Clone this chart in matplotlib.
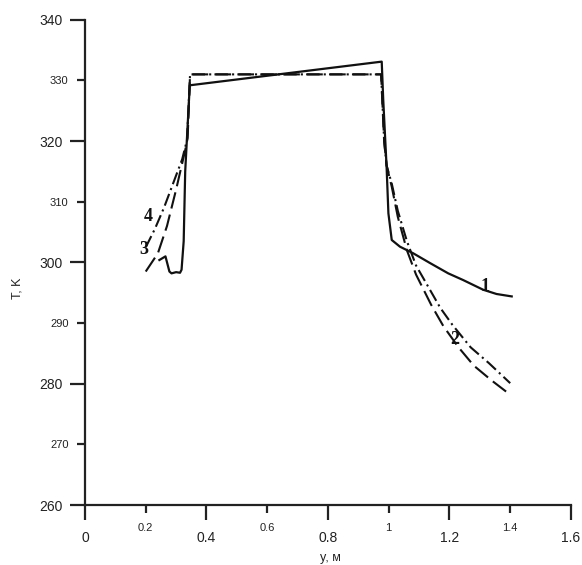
import matplotlib.pyplot as plt
import numpy as np

# curve 1 (solid)
y1 = [0.245, 0.265, 0.278, 0.285, 0.300, 0.313, 0.318, 0.325, 0.330, 0.345,
      0.977, 0.982, 0.993, 0.999, 1.010, 1.037, 1.081, 1.136, 1.196, 1.245,
      1.311, 1.355, 1.405]
T1 = [300.4, 301.0, 298.5, 298.2, 298.4, 298.3, 298.8, 303.5, 315.0, 329.2,
      333.1, 326.8, 315.8, 308.1, 303.7, 302.6, 301.5, 299.9, 298.2, 297.1,
      295.5, 294.8, 294.4]

# curves 2/3 (long dash)
y3 = [0.200, 0.240, 0.270, 0.300, 0.330, 0.338, 0.346, 0.975, 0.985, 0.993,
      1.010, 1.030, 1.060, 1.090, 1.140, 1.180, 1.230, 1.280, 1.340, 1.400]
T3 = [298.5, 301.5, 306.0, 312.0, 318.5, 320.5, 331.0, 331.0, 320.0, 316.0,
      312.5, 307.5, 302.0, 298.0, 293.0, 289.5, 286.0, 283.0, 280.5, 278.2]

# curve 4 (dash-dot)
y4 = [0.200, 0.230, 0.260, 0.290, 0.320, 0.336, 0.346, 0.975, 0.985, 0.993,
      1.010, 1.030, 1.060, 1.090, 1.130, 1.170, 1.210, 1.270, 1.330, 1.400]
T4 = [302.5, 305.5, 309.0, 313.0, 317.0, 320.2, 331.0, 331.0, 320.0, 316.0,
      313.0, 308.5, 303.5, 299.5, 296.0, 292.5, 289.7, 286.0, 283.4, 280.1]

labels = ['1', '2', '3', '4']
label_y = [1.317, 1.218, 0.194, 0.207]
label_T = [296.0, 287.3, 302.2, 307.6]

plt.rcParams['font.family'] = ['Liberation Sans', 'DejaVu Sans']

fig = plt.figure(figsize=(5.82, 5.65), dpi=100)
ax = fig.add_axes([0.146, 0.106, 0.835, 0.859])

ax.plot(y1, T1, color='#111111', lw=1.6)
ax.plot(y3, T3, color='#111111', lw=1.5, dashes=(8, 3))
ax.plot(y4, T4, color='#111111', lw=1.5, dashes=(6, 2, 1, 2))

for s, xx, tt in zip(labels, label_y, label_T):
    ax.text(xx, tt, s, family='Liberation Serif', fontweight='bold',
            fontsize=13, ha='center', va='center', color='#111111')

ax.set_xlim(0, 1.6)
ax.set_ylim(260, 340)
ax.set_xticks([0, 0.4, 0.8, 1.2, 1.6])
ax.set_xticklabels(['0', '0.4', '0.8', '1.2', '1.6'])
ax.set_xticks([0.2, 0.6, 1.0, 1.4], minor=True)
ax.set_xticklabels(['0.2', '0.6', '1', '1.4'], minor=True)
ax.set_yticks([260, 280, 300, 320, 340])
ax.set_yticks([270, 290, 310, 330], minor=True)
ax.set_yticklabels(['270', '290', '310', '330'], minor=True)

for sp in ['top', 'right']:
    ax.spines[sp].set_visible(False)
for sp in ['left', 'bottom']:
    ax.spines[sp].set_linewidth(1.6)
    ax.spines[sp].set_color('#222222')

ax.tick_params(which='major', length=11, width=1.6, color='#222222',
               labelsize=10, labelcolor='#222222')
ax.tick_params(which='minor', length=5.8, width=1.6, color='#222222',
               labelsize=8, labelcolor='#222222')
ax.tick_params(axis='x', which='major', pad=8)
ax.tick_params(axis='x', which='minor', pad=7)
ax.tick_params(axis='y', which='major', pad=5)
ax.tick_params(axis='y', which='minor', pad=6)

fig.text(0.030, 1 - 288 / 565, 'T, K', rotation=90, ha='center', va='center',
         fontsize=9, color='#222222')
fig.text(330 / 582, 1 - 558 / 565, 'y, м', ha='center', va='center',
         fontsize=9, color='#222222')

fig.savefig('out.png', dpi=100)
